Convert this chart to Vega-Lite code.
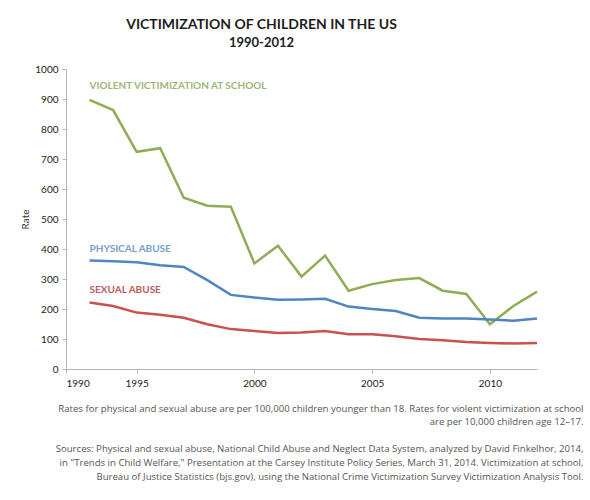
{
  "$schema": "https://vega.github.io/schema/vega-lite/v6.json",
  "description": "Victimization of children in the US, 1990-2012",
  "autosize": "none",
  "padding": {"left": 66, "top": 69, "right": 53, "bottom": 131},
  "width": 471,
  "height": 300,
  "background": "white",
  "config": {
    "view": {"stroke": null},
    "font": "Lato"
  },
  "title": {
    "text": "VICTIMIZATION OF CHILDREN IN THE US",
    "subtitle": "1990-2012",
    "anchor": "middle",
    "dx": -40,
    "offset": 14,
    "font": "Lato",
    "fontSize": 14,
    "fontWeight": "bold",
    "color": "#1e1e1e",
    "subtitleFont": "Lato",
    "subtitleFontSize": 13,
    "subtitleFontWeight": "bold",
    "subtitleColor": "#1e1e1e",
    "subtitlePadding": 5
  },
  "datasets": {
    "rates": [
      {"year": 1993, "series": "violent", "rate": 897},
      {"year": 1994, "series": "violent", "rate": 863},
      {"year": 1995, "series": "violent", "rate": 724},
      {"year": 1996, "series": "violent", "rate": 736},
      {"year": 1997, "series": "violent", "rate": 571},
      {"year": 1998, "series": "violent", "rate": 544},
      {"year": 1999, "series": "violent", "rate": 541},
      {"year": 2000, "series": "violent", "rate": 352},
      {"year": 2001, "series": "violent", "rate": 411},
      {"year": 2002, "series": "violent", "rate": 308},
      {"year": 2003, "series": "violent", "rate": 378},
      {"year": 2004, "series": "violent", "rate": 261},
      {"year": 2005, "series": "violent", "rate": 283},
      {"year": 2006, "series": "violent", "rate": 297},
      {"year": 2007, "series": "violent", "rate": 303},
      {"year": 2008, "series": "violent", "rate": 261},
      {"year": 2009, "series": "violent", "rate": 250},
      {"year": 2010, "series": "violent", "rate": 149},
      {"year": 2011, "series": "violent", "rate": 210},
      {"year": 2012, "series": "violent", "rate": 258},
      {"year": 1993, "series": "physical", "rate": 362},
      {"year": 1994, "series": "physical", "rate": 359},
      {"year": 1995, "series": "physical", "rate": 356},
      {"year": 1996, "series": "physical", "rate": 346},
      {"year": 1997, "series": "physical", "rate": 340},
      {"year": 1998, "series": "physical", "rate": 296},
      {"year": 1999, "series": "physical", "rate": 247},
      {"year": 2000, "series": "physical", "rate": 238},
      {"year": 2001, "series": "physical", "rate": 231},
      {"year": 2002, "series": "physical", "rate": 232},
      {"year": 2003, "series": "physical", "rate": 234},
      {"year": 2004, "series": "physical", "rate": 208},
      {"year": 2005, "series": "physical", "rate": 200},
      {"year": 2006, "series": "physical", "rate": 193},
      {"year": 2007, "series": "physical", "rate": 171},
      {"year": 2008, "series": "physical", "rate": 168},
      {"year": 2009, "series": "physical", "rate": 168},
      {"year": 2010, "series": "physical", "rate": 165},
      {"year": 2011, "series": "physical", "rate": 161},
      {"year": 2012, "series": "physical", "rate": 168},
      {"year": 1993, "series": "sexual", "rate": 222},
      {"year": 1994, "series": "sexual", "rate": 210},
      {"year": 1995, "series": "sexual", "rate": 188},
      {"year": 1996, "series": "sexual", "rate": 181},
      {"year": 1997, "series": "sexual", "rate": 171},
      {"year": 1998, "series": "sexual", "rate": 149},
      {"year": 1999, "series": "sexual", "rate": 133},
      {"year": 2000, "series": "sexual", "rate": 127},
      {"year": 2001, "series": "sexual", "rate": 120},
      {"year": 2002, "series": "sexual", "rate": 122},
      {"year": 2003, "series": "sexual", "rate": 127},
      {"year": 2004, "series": "sexual", "rate": 116},
      {"year": 2005, "series": "sexual", "rate": 116},
      {"year": 2006, "series": "sexual", "rate": 109},
      {"year": 2007, "series": "sexual", "rate": 100},
      {"year": 2008, "series": "sexual", "rate": 96},
      {"year": 2009, "series": "sexual", "rate": 90},
      {"year": 2010, "series": "sexual", "rate": 87},
      {"year": 2011, "series": "sexual", "rate": 85},
      {"year": 2012, "series": "sexual", "rate": 87}
    ],
    "labels": [
      {"year": 1993, "series": "violent", "rate": 943, "label": "VIOLENT VICTIMIZATION AT SCHOOL"},
      {"year": 1993, "series": "physical", "rate": 400, "label": "PHYSICAL ABUSE"},
      {"year": 1993, "series": "sexual", "rate": 263, "label": "SEXUAL ABUSE"}
    ]
  },
  "encoding": {
    "x": {
      "field": "year",
      "type": "quantitative",
      "scale": {"domain": [1992, 2012], "nice": false, "zero": false},
      "axis": {
        "values": [1992, 1995, 2000, 2005, 2010],
        "labelExpr": "datum.value == 1992 ? '1990' : datum.label",
        "format": "d",
        "grid": false,
        "domainColor": "#b5b5b5",
        "tickColor": "#b5b5b5",
        "tickSize": 4,
        "labelFont": "Lato",
        "labelFontSize": 10,
        "labelColor": "#222",
        "labelPadding": 5,
        "title": [
          "Rates for physical and sexual abuse are per 100,000 children younger than 18. Rates for violent victimization at school",
          "are per 10,000 children age 12–17.",
          "\u2800",
          "Sources: Physical and sexual abuse, National Child Abuse and Neglect Data System, analyzed by David Finkelhor, 2014,",
          "in \"Trends in Child Welfare,\" Presentation at the Carsey Institute Policy Series, March 31, 2014. Victimization at school,",
          "Bureau of Justice Statistics (bjs.gov), using the National Crime Victimization Survey Victimization Analysis Tool."
        ],
        "titleFont": "Open Sans",
        "titleFontSize": 9.6,
        "titleFontWeight": "normal",
        "titleColor": "#555",
        "titleAlign": "right",
        "titleAnchor": "end",
        "titleX": 517,
        "titleBaseline": "top",
        "titleLineHeight": 13.6,
        "titlePadding": 15
      }
    },
    "y": {
      "field": "rate",
      "type": "quantitative",
      "scale": {"domain": [0, 1000], "nice": false},
      "axis": {
        "values": [0, 100, 200, 300, 400, 500, 600, 700, 800, 900, 1000],
        "format": "d",
        "labelOverlap": false,
        "grid": false,
        "domainColor": "#b5b5b5",
        "tickColor": "#b5b5b5",
        "tickSize": 4,
        "labelFont": "Lato",
        "labelFontSize": 10,
        "labelColor": "#222",
        "labelPadding": 4,
        "title": "Rate",
        "titleFont": "Lato",
        "titleFontSize": 10,
        "titleFontWeight": "normal",
        "titleColor": "#333",
        "titlePadding": 4
      }
    }
  },
  "layer": [
    {
      "data": {"name": "rates"},
      "mark": {"type": "line", "strokeWidth": 2.5, "strokeJoin": "miter"},
      "encoding": {
        "color": {
          "field": "series",
          "type": "nominal",
          "scale": {"domain": ["violent", "physical", "sexual"], "range": ["#8fad55", "#4d86c0", "#c9514e"]},
          "legend": null
        }
      }
    },
    {
      "data": {"name": "labels"},
      "mark": {"type": "text", "align": "left", "baseline": "middle", "font": "Lato", "fontSize": 10, "fontWeight": "bold"},
      "encoding": {
        "text": {"field": "label"},
        "color": {
          "field": "series",
          "type": "nominal",
          "scale": {"domain": ["violent", "physical", "sexual"], "range": ["#9db57c", "#76a0c9", "#bd5a5c"]},
          "legend": null
        }
      }
    }
  ],
  "resolve": {"scale": {"color": "independent"}}
}
